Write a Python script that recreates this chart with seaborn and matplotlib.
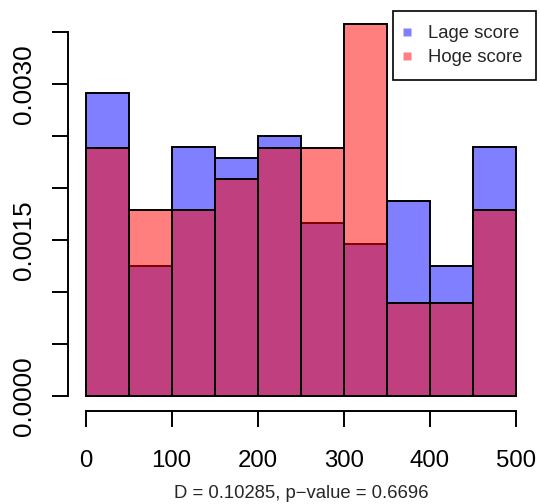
import numpy as np
import pandas as pd
import matplotlib
matplotlib.use("Agg")
import matplotlib.pyplot as plt
from matplotlib.lines import Line2D
import seaborn as sns

# Score histogram, 10 bins of width 50
bin_edges = [0, 50, 100, 150, 200, 250, 300, 350, 400, 450, 500]
lage_counts = [28, 12, 23, 22, 24, 16, 14, 18, 12, 23]
hoge_counts = [8, 6, 6, 7, 8, 8, 12, 3, 3, 6]
group_labels = ["Lage score", "Hoge score"]
x_ticks = [0, 100, 200, 300, 400, 500]
y_ticks = [0.0, 0.0005, 0.0010, 0.0015, 0.0020, 0.0025, 0.0030, 0.0035]
y_labels = ["0.0000", "", "", "0.0015", "", "", "0.0030", ""]
subtitle = "D = 0.10285, p\u2212value = 0.6696"

# observations rebuilt from the bin counts (placed at bin midpoints)
mids = [(a + b) / 2 for a, b in zip(bin_edges[:-1], bin_edges[1:])]
lage = np.repeat(mids, lage_counts)
hoge = np.repeat(mids, hoge_counts)

sns.set_theme(style="white")
plt.rcParams["font.family"] = ["Liberation Sans", "DejaVu Sans"]

fig = plt.figure(figsize=(5.4, 5.04), dpi=100)
ax = fig.add_axes([0.1265, 0.1851, 0.8609, 0.7970])

blue = (0, 0, 1, 0.5)
red = (1, 0, 0, 0.5)

sns.histplot(x=lage, bins=bin_edges, stat="density", ax=ax,
             edgecolor="black", linewidth=1.4)
n_blue = len(ax.patches)
sns.histplot(x=hoge, bins=bin_edges, stat="density", ax=ax,
             edgecolor="black", linewidth=1.4)
for i, p in enumerate(ax.patches):
    p.set_alpha(None)
    p.set_facecolor(blue if i < n_blue else red)
    p.set_edgecolor("black")

ax.set_xlim(-20, 520)
ax.set_ylim(-0.000143, 0.003725)
ax.set_xlabel("")
ax.set_ylabel("")

ax.set_xticks(x_ticks)
ax.set_xticklabels([str(t) for t in x_ticks], fontsize=17.3)
ax.set_yticks(y_ticks)
ax.set_yticklabels(y_labels, fontsize=18.7, rotation=90, va="center")

for side in ["top", "right"]:
    ax.spines[side].set_visible(False)
for side in ["left", "bottom"]:
    ax.spines[side].set_color("black")
    ax.spines[side].set_linewidth(1.4)
ax.spines["left"].set_bounds(0, 0.0035)
ax.spines["bottom"].set_bounds(0, 500)
ax.tick_params(axis="both", direction="out", length=11.5, width=1.4,
               color="black", labelcolor="black",
               bottom=True, left=True, top=False, right=False)
ax.tick_params(axis="x", pad=17)
ax.tick_params(axis="y", pad=12)
ax.grid(False)

handles = [
    Line2D([], [], marker="s", linestyle="none", markersize=5.5,
           markerfacecolor=blue, markeredgecolor="none"),
    Line2D([], [], marker="s", linestyle="none", markersize=5.5,
           markerfacecolor=red, markeredgecolor="none"),
]
leg = ax.legend(handles, group_labels, loc="upper right",
                bbox_to_anchor=(1.006, 0.994), borderaxespad=0,
                fontsize=13.3, frameon=True, fancybox=False,
                handlelength=0.05, handletextpad=1.1, borderpad=0.74,
                labelspacing=0.4)
leg.get_frame().set_edgecolor("black")
leg.get_frame().set_linewidth(1.2)
leg.get_frame().set_facecolor("white")
leg.get_frame().set_alpha(1)

fig.text(301 / 540, 1 - 494 / 504, subtitle, ha="center", va="center",
         fontsize=13.3)

fig.savefig("out.png", dpi=100)
